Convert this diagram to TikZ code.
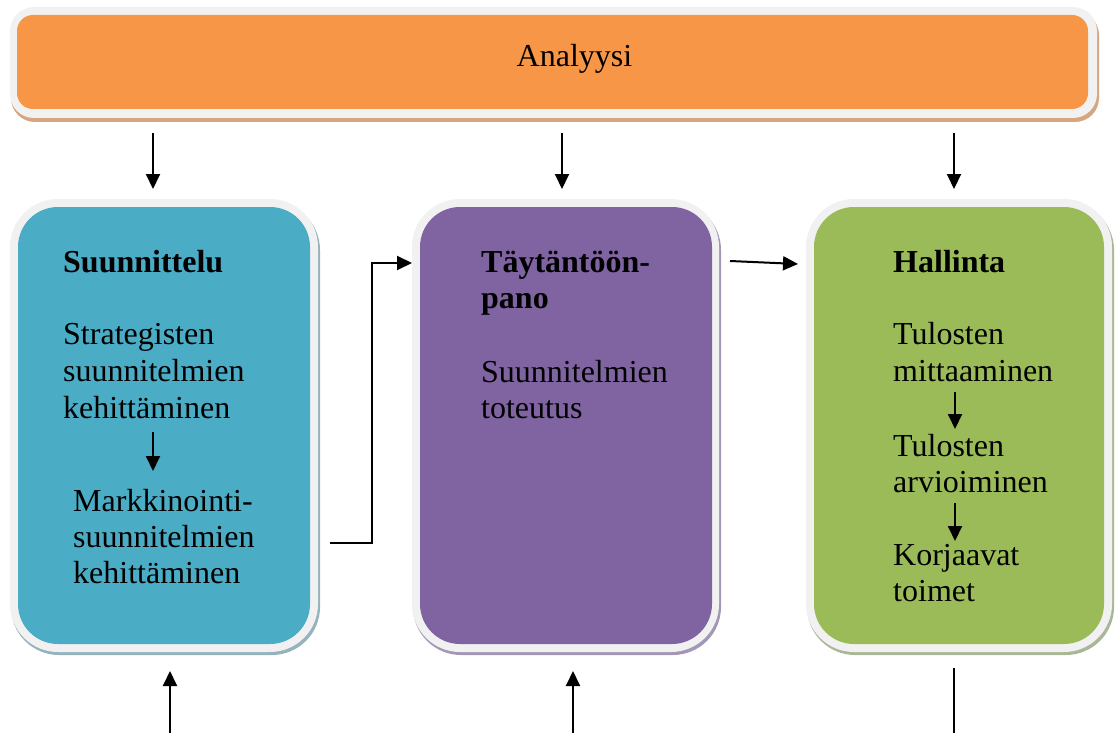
\documentclass[tikz,border=0pt]{standalone}
\usepackage{fontspec}
\setmainfont{Liberation Serif}
\usetikzlibrary{arrows.meta}
\definecolor{rimgray}{HTML}{F1F1F1}
\definecolor{barfill}{HTML}{F79646}
\definecolor{barshadow}{HTML}{D7A57F}
\definecolor{planfill}{HTML}{4BACC6}
\definecolor{planshadow}{HTML}{95B3BD}
\definecolor{dofill}{HTML}{8064A2}
\definecolor{doshadow}{HTML}{A497B5}
\definecolor{ctrlfill}{HTML}{9BBB59}
\definecolor{ctrlshadow}{HTML}{A9B797}
\begin{document}
\begin{tikzpicture}[x=1pt,y=-1pt,
  boxshadow/.style={fill=#1, rounded corners=48pt},
  rim/.style={fill=rimgray, rounded corners=48pt},
  panel/.style={fill=#1, rounded corners=40pt, minimum width=292pt,
    minimum height=437pt, inner sep=0pt, draw=none},
  txt/.style={anchor=base west, inner sep=0pt, font=\fontsize{32}{36}\selectfont},
  head/.style={txt, font=\fontsize{32}{36}\selectfont\bfseries},
  flow/.style={line width=2pt, -{Triangle[length=15pt,width=14pt]}},
  bareline/.style={line width=2pt},
]
\useasboundingbox (0,0) rectangle (1119,733);

% top bar: shadow, light rim, orange face
\fill[boxshadow=barshadow, rounded corners=24pt] (11,11) rectangle (1099,122);
\fill[rim, rounded corners=24pt] (10,7) rectangle (1097,118);
\node[panel=barfill, rounded corners=16pt, minimum width=1071pt,
  minimum height=94pt] (bar) at (552.5,62) {};
\node[anchor=base, inner sep=0pt, font=\fontsize{32}{36}\selectfont]
  (bartext) at (574.5,67) {Analyysi};

% three process panels
\fill[boxshadow=planshadow] (11,202) rectangle (320,655);
\fill[rim] (10,199) rectangle (318,652);
\node[panel=planfill] (plan) at (164,425.5) {};

\fill[boxshadow=doshadow] (413,202) rectangle (721,655);
\fill[rim] (412,199) rectangle (719,652);
\node[panel=dofill] (do) at (566,425.5) {};

\fill[boxshadow=ctrlshadow] (807,202) rectangle (1114,655);
\fill[rim] (806,199) rectangle (1112,652);
\node[panel=ctrlfill, minimum width=290pt] (ctrl) at (959,425.5) {};

% texts of the planning panel
\node[head] (p1) at (63,272) {Suunnittelu};
\node[txt] (p2) at (63,344) {Strategisten};
\node[txt] (p3) at (63,381) {suunnitelmien};
\node[txt] (p4) at (63,418) {kehittäminen};
\node[txt] (p5) at (73,511) {Markkinointi-};
\node[txt] (p6) at (73,547) {suunnitelmien};
\node[txt] (p7) at (73,583) {kehittäminen};

% texts of the implementation panel
\node[head] (d1) at (481,272) {Täytäntöön-};
\node[head] (d2) at (481,308) {pano};
\node[txt] (d3) at (481,382) {Suunnitelmien};
\node[txt] (d4) at (481,418) {toteutus};

% texts of the control panel
\node[head] (c1) at (893,272) {Hallinta};
\node[txt] (c2) at (893,344) {Tulosten};
\node[txt] (c3) at (893,381) {mittaaminen};
\node[txt] (c4) at (893,456) {Tulosten};
\node[txt] (c5) at (893,492) {arvioiminen};
\node[txt] (c6) at (893,565) {Korjaavat};
\node[txt] (c7) at (893,601) {toimet};

% connector end points
\coordinate (a1) at (153,133); \coordinate (b1) at (153,189);
\coordinate (a2) at (562,133); \coordinate (b2) at (562,189);
\coordinate (a3) at (954,133); \coordinate (b3) at (954,189);
\coordinate (u1) at (170,733); \coordinate (v1) at (170,671);
\coordinate (u2) at (573,733); \coordinate (v2) at (573,671);
\coordinate (u3) at (954,733); \coordinate (v3) at (954,668);
\coordinate (m1) at (153,432); \coordinate (n1) at (153,471);
\coordinate (m2) at (955,392); \coordinate (n2) at (955,429);
\coordinate (m3) at (955,503); \coordinate (n3) at (955,541);
\coordinate (s1) at (330,543); \coordinate (s2) at (372,543);
\coordinate (t1) at (412,263);
\coordinate (g1) at (730,261); \coordinate (g2) at (798,264);

% arrows from the analysis bar
\draw[flow] (a1) -- (b1);
\draw[flow] (a2) -- (b2);
\draw[flow] (a3) -- (b3);

% feedback lines at the bottom
\draw[flow] (u1) -- (v1);
\draw[flow] (u2) -- (v2);
\draw[bareline] (u3) -- (v3);

% steps inside the panels
\draw[flow] (m1) -- (n1);
\draw[flow] (m2) -- (n2);
\draw[flow] (m3) -- (n3);

% links between panels
\draw[flow] (s1) -- (s2) |- (t1);
\draw[flow] (g1) -- (g2);
\end{tikzpicture}
\end{document}
